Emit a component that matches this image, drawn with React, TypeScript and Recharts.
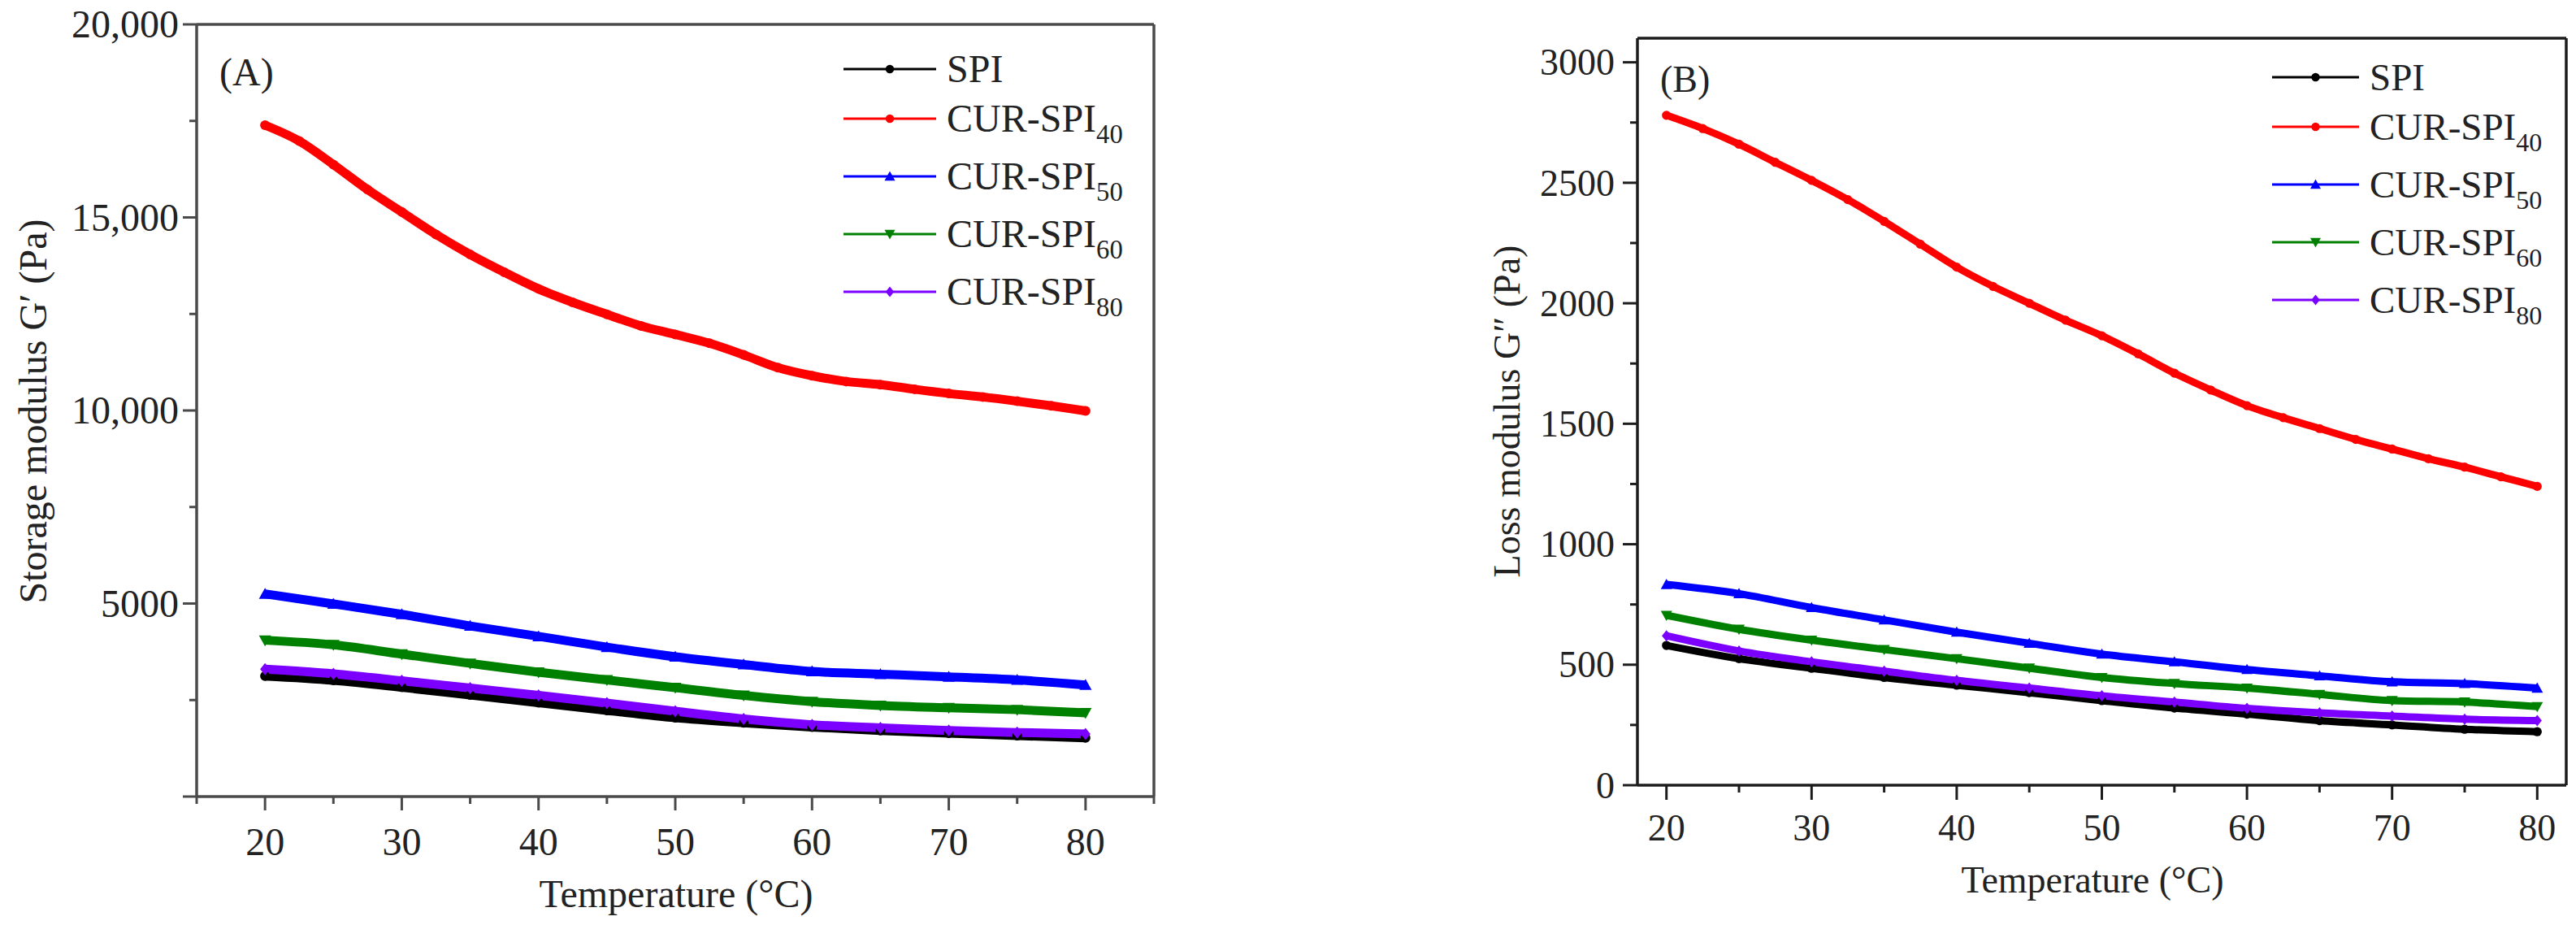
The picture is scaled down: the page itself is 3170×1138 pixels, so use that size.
import React from "react";
import { Legend, Line, LineChart, ReferenceLine, XAxis, YAxis } from "recharts";

const FONT = '"Liberation Serif", "Times New Roman", serif';
const TEXT = "#222222";

// temperatures (°C) at which values were read
const tempsCoarse = [20, 25, 30, 35, 40, 45, 50, 55, 60, 65, 70, 75, 80];
const tempsFine = [
  20, 22.5, 25, 27.5, 30, 32.5, 35, 37.5, 40, 42.5, 45, 47.5, 50, 52.5, 55, 57.5, 60, 62.5, 65,
  67.5, 70, 72.5, 75, 77.5, 80,
];

// (A) storage modulus G' (Pa)
const storageSpi = [3120, 3010, 2830, 2630, 2430, 2230, 2040, 1910, 1800, 1710, 1640, 1580, 1520];
const storageCur40 = [
  17390, 16980, 16370, 15720, 15140, 14560, 14040, 13580, 13150, 12800, 12490, 12190, 11970,
  11740, 11440, 11110, 10900, 10750, 10670, 10550, 10440, 10350, 10240, 10120, 9990,
];
const storageCur50 = [5250, 4990, 4720, 4420, 4150, 3870, 3620, 3420, 3240, 3170, 3100, 3020, 2890];
const storageCur60 = [4050, 3930, 3690, 3450, 3220, 3020, 2820, 2620, 2460, 2360, 2300, 2250, 2170];
const storageCur80 = [3300, 3180, 3000, 2810, 2620, 2420, 2210, 2010, 1860, 1780, 1710, 1660, 1620];

// (B) loss modulus G'' (Pa)
const lossSpi = [580, 525, 485, 447, 415, 384, 351, 320, 295, 268, 250, 232, 222];
const lossCur40 = [
  2780, 2725, 2660, 2585, 2510, 2430, 2340, 2245, 2150, 2070, 2000, 1930, 1865, 1790, 1710, 1640,
  1575, 1525, 1480, 1435, 1395, 1355, 1320, 1280, 1240,
];
const lossCur50 = [833, 795, 737, 686, 635, 589, 544, 512, 480, 454, 429, 422, 403];
const lossCur60 = [705, 647, 602, 563, 525, 486, 447, 422, 403, 377, 351, 345, 326];
const lossCur80 = [620, 557, 512, 473, 435, 403, 371, 345, 319, 300, 287, 274, 268];

const seriesBase = ["SPI", "CUR-SPI", "CUR-SPI", "CUR-SPI", "CUR-SPI"];
const seriesSub = ["", "40", "50", "60", "80"];
const seriesColors = ["#000000", "#ff0000", "#0000ff", "#008000", "#7b00ff"];
const seriesShapes = ["circle", "circle", "up", "down", "diamond"];

// axis ticks
const xTicksA = [15, 20, 25, 30, 35, 40, 45, 50, 55, 60, 65, 70, 75, 80, 85];
const yTicksA = [0, 2500, 5000, 7500, 10000, 12500, 15000, 17500, 20000];
const xTicksB = [20, 25, 30, 35, 40, 45, 50, 55, 60, 65, 70, 75, 80];
const yTicksB = [0, 250, 500, 750, 1000, 1250, 1500, 1750, 2000, 2250, 2500, 2750, 3000];

type Shape = string;

function toRows(temps: number[], values: number[]) {
  return temps.map((t, i) => ({ t, v: values[i] }));
}

function Marker({ shape, cx, cy, size, color }: { shape: Shape; cx: number; cy: number; size: number; color: string }) {
  const h = size / 2;
  if (shape === "up") {
    return <path d={`M${cx},${cy - h} L${cx + h},${cy + h * 0.8} L${cx - h},${cy + h * 0.8} Z`} fill={color} />;
  }
  if (shape === "down") {
    return <path d={`M${cx},${cy + h} L${cx + h},${cy - h * 0.8} L${cx - h},${cy - h * 0.8} Z`} fill={color} />;
  }
  if (shape === "diamond") {
    return <path d={`M${cx},${cy - h} L${cx + h * 0.8},${cy} L${cx},${cy + h} L${cx - h * 0.8},${cy} Z`} fill={color} />;
  }
  return <circle cx={cx} cy={cy} r={h * 0.8} fill={color} />;
}

function dotRenderer(shape: Shape, color: string, size: number) {
  return (props: any) => {
    const { cx, cy, index } = props;
    if (cx == null || cy == null) return <g key={`d-${index}`} />;
    return (
      <g key={`d-${index}`}>
        <Marker shape={shape} cx={cx} cy={cy} size={size} color={color} />
      </g>
    );
  };
}

type TickCfg = {
  major: number;
  majorLen: number;
  minorLen: number;
  labelGap: number;
  color: string;
  width: number;
  fontSize: number;
  format: (v: number) => string;
};

function xTick(cfg: TickCfg) {
  return (props: any) => {
    const { x, y, payload } = props;
    const v = payload.value;
    const isMajor = v % cfg.major === 0;
    return (
      <g key={`x-${v}`}>
        <line x1={x} y1={y} x2={x} y2={y + (isMajor ? cfg.majorLen : cfg.minorLen)} stroke={cfg.color} strokeWidth={cfg.width} />
        {isMajor && (
          <text x={x} y={y + cfg.labelGap} textAnchor="middle" fontFamily={FONT} fontSize={cfg.fontSize} fill={TEXT}>
            {cfg.format(v)}
          </text>
        )}
      </g>
    );
  };
}

function yTick(cfg: TickCfg) {
  return (props: any) => {
    const { x, y, payload } = props;
    const v = payload.value;
    const isMajor = v % cfg.major === 0;
    const label = isMajor ? cfg.format(v) : "";
    return (
      <g key={`y-${v}`}>
        <line x1={x} y1={y} x2={x - (isMajor ? cfg.majorLen : cfg.minorLen)} y2={y} stroke={cfg.color} strokeWidth={cfg.width} />
        {label && (
          <text x={x - cfg.labelGap} y={y} dy="0.34em" textAnchor="end" fontFamily={FONT} fontSize={cfg.fontSize} fill={TEXT}>
            {label}
          </text>
        )}
      </g>
    );
  };
}

function LegendBox({ lineWidth, fontSize }: { lineWidth: number; fontSize: number }) {
  return (
    <div style={{ fontFamily: FONT, color: TEXT }}>
      {seriesBase.map((base, i) => (
        <div key={i} style={{ position: "relative", height: i === 0 ? 61 : 71, width: 420 }}>
          <svg width={lineWidth} height={24} style={{ position: "absolute", left: 0, top: 31 - 12 }}>
            <line x1={0} y1={12} x2={lineWidth} y2={12} stroke={seriesColors[i]} strokeWidth={3} />
            <Marker shape={seriesShapes[i]} cx={lineWidth / 2} cy={12} size={13} color={seriesColors[i]} />
          </svg>
          <span
            style={{
              position: "absolute",
              left: lineWidth + 13,
              top: 31 - fontSize / 2,
              fontSize,
              lineHeight: `${fontSize}px`,
              whiteSpace: "nowrap",
            }}
          >
            {base}
            {seriesSub[i] && (
              <span style={{ fontSize: fontSize * 0.68, position: "relative", top: fontSize * 0.3 }}>{seriesSub[i]}</span>
            )}
          </span>
        </div>
      ))}
    </div>
  );
}

type PanelProps = {
  left: number;
  width: number;
  margin: { top: number; right: number; bottom: number; left: number };
  yAxisWidth: number;
  xAxisHeight: number;
  xDomain: [number, number];
  yDomain: [number, number];
  xTicks: number[];
  yTicks: number[];
  xCfg: TickCfg;
  yCfg: TickCfg;
  rows: { t: number; v: number }[][];
  strokeWidth: number;
  markerSize: number;
  legendLeft: number;
  legendTop: number;
  legendLine: number;
  fontSize: number;
};

function Panel(p: PanelProps) {
  return (
    <div style={{ position: "absolute", left: p.left, top: 0 }}>
      <LineChart width={p.width} height={1138} margin={p.margin}>
        <XAxis
          dataKey="t"
          type="number"
          domain={p.xDomain}
          ticks={p.xTicks}
          interval={0}
          height={p.xAxisHeight}
          tickSize={0}
          tickMargin={0}
          tickLine={false}
          axisLine={{ stroke: p.xCfg.color, strokeWidth: p.xCfg.width + 0.5 }}
          tick={xTick(p.xCfg)}
          allowDataOverflow
        />
        <YAxis
          type="number"
          domain={p.yDomain}
          ticks={p.yTicks}
          interval={0}
          width={p.yAxisWidth}
          tickSize={0}
          tickMargin={0}
          tickLine={false}
          axisLine={{ stroke: p.yCfg.color, strokeWidth: p.yCfg.width + 0.5 }}
          tick={yTick(p.yCfg)}
          allowDataOverflow
        />
        <ReferenceLine y={p.yDomain[1]} stroke={p.yCfg.color} strokeWidth={p.yCfg.width + 0.5} />
        <ReferenceLine x={p.xDomain[1]} stroke={p.xCfg.color} strokeWidth={p.xCfg.width + 0.5} />
        {p.rows.map((data, i) => (
          <Line
            key={i}
            data={data}
            dataKey="v"
            name={seriesBase[i] + seriesSub[i]}
            type="monotone"
            stroke={seriesColors[i]}
            strokeWidth={p.strokeWidth}
            dot={dotRenderer(seriesShapes[i], seriesColors[i], p.markerSize)}
            activeDot={false}
            isAnimationActive={false}
          />
        ))}
        <Legend
          layout="vertical"
          align="center"
          verticalAlign="middle"
          wrapperStyle={{ left: p.legendLeft, top: p.legendTop, width: 440 }}
          content={() => <LegendBox lineWidth={p.legendLine} fontSize={p.fontSize} />}
        />
      </LineChart>
    </div>
  );
}

const overlay = (style: React.CSSProperties, text: React.ReactNode, size: number) => (
  <div
    style={{
      position: "absolute",
      fontFamily: FONT,
      fontSize: size,
      lineHeight: `${size}px`,
      color: TEXT,
      whiteSpace: "nowrap",
      ...style,
    }}
  >
    {text}
  </div>
);

export default function App() {
  const rowsA = [
    toRows(tempsCoarse, storageSpi),
    toRows(tempsFine, storageCur40),
    toRows(tempsCoarse, storageCur50),
    toRows(tempsCoarse, storageCur60),
    toRows(tempsCoarse, storageCur80),
  ];
  const rowsB = [
    toRows(tempsCoarse, lossSpi),
    toRows(tempsFine, lossCur40),
    toRows(tempsCoarse, lossCur50),
    toRows(tempsCoarse, lossCur60),
    toRows(tempsCoarse, lossCur80),
  ];

  const axisA = "#4a4a4a";
  const axisB = "#1c1c1c";

  return (
    <div style={{ position: "absolute", left: 0, top: 0, width: 3170, height: 1138, background: "#fff", overflow: "hidden" }}>
      <Panel
        left={0}
        width={1440}
        margin={{ top: 30, right: 20, bottom: 0, left: 0 }}
        yAxisWidth={242}
        xAxisHeight={158}
        xDomain={[15, 85]}
        yDomain={[0, 20000]}
        xTicks={xTicksA}
        yTicks={yTicksA}
        xCfg={{ major: 10, majorLen: 17, minorLen: 9, labelGap: 72, color: axisA, width: 3, fontSize: 48, format: (v) => String(v) }}
        yCfg={{
          major: 5000,
          majorLen: 17,
          minorLen: 9,
          labelGap: 22,
          color: axisA,
          width: 3,
          fontSize: 48,
          format: (v) => (v === 0 ? "" : v >= 10000 ? v.toLocaleString("en-US") : String(v)),
        }}
        rows={rowsA}
        strokeWidth={11}
        markerSize={15}
        legendLeft={1038}
        legendTop={54}
        legendLine={114}
        fontSize={48}
      />
      <Panel
        left={1780}
        width={1390}
        margin={{ top: 47, right: 12, bottom: 0, left: 0 }}
        yAxisWidth={235}
        xAxisHeight={172}
        xDomain={[18, 82]}
        yDomain={[0, 3100]}
        xTicks={xTicksB}
        yTicks={yTicksB}
        xCfg={{ major: 10, majorLen: 18, minorLen: 9, labelGap: 68, color: axisB, width: 3, fontSize: 46, format: (v) => String(v) }}
        yCfg={{ major: 500, majorLen: 18, minorLen: 9, labelGap: 28, color: axisB, width: 3, fontSize: 46, format: (v) => String(v) }}
        rows={rowsB}
        strokeWidth={9}
        markerSize={14}
        legendLeft={1016}
        legendTop={64}
        legendLine={107}
        fontSize={47}
      />

      {overlay({ left: 270, top: 65 }, "(A)", 48)}
      {overlay({ left: 2043, top: 75 }, "(B)", 46)}
      {overlay({ left: 41, top: 506, transform: "translate(-50%, -50%) rotate(-90deg)" }, "Storage modulus G′ (Pa)", 48)}
      {overlay({ left: 1855, top: 506, transform: "translate(-50%, -50%) rotate(-90deg)" }, "Loss modulus G″ (Pa)", 46)}
      {overlay({ left: 832, top: 1076, transform: "translateX(-50%)" }, "Temperature (°C)", 48)}
      {overlay({ left: 2575, top: 1060, transform: "translateX(-50%)" }, "Temperature (°C)", 46)}
    </div>
  );
}
